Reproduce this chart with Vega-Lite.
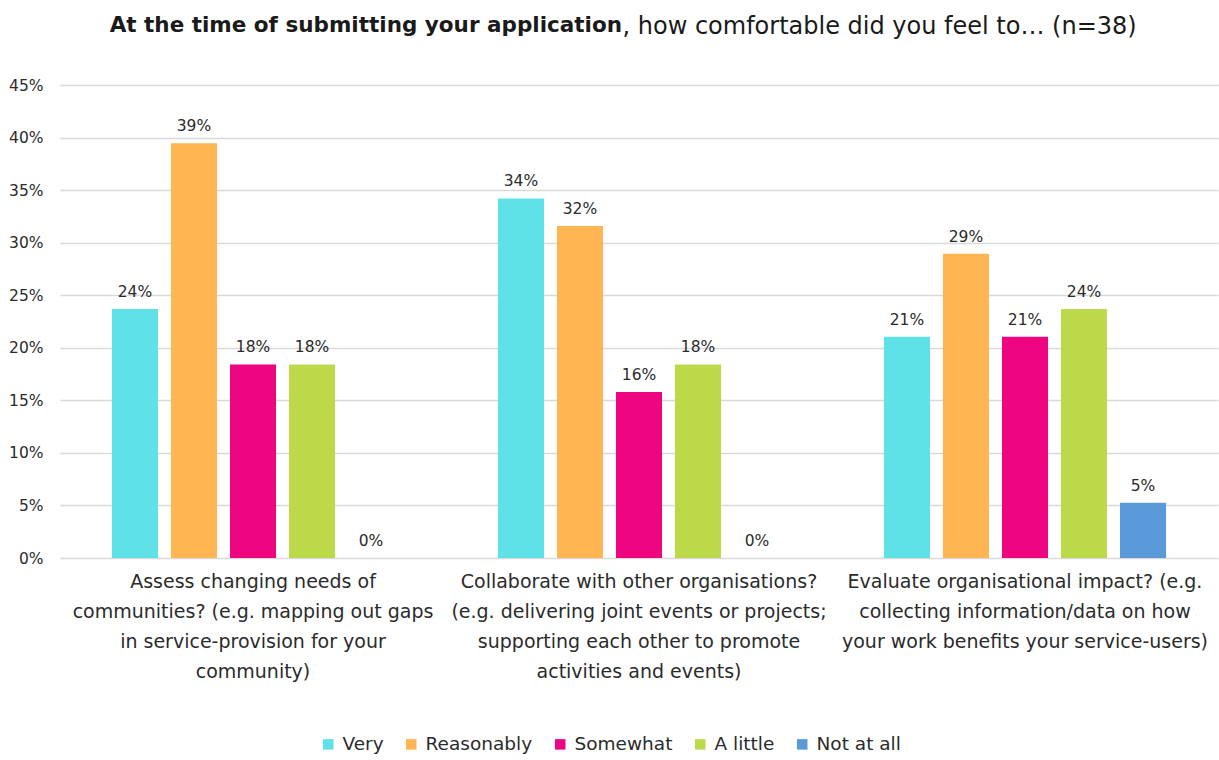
{
  "$schema": "https://vega.github.io/schema/vega-lite/v6.json",
  "autosize": "none",
  "width": 1158,
  "height": 473,
  "padding": {"left": 60, "top": 85, "right": 1, "bottom": 202},
  "background": "white",
  "config": {
    "font": "DejaVu Sans",
    "view": {"stroke": null}
  },
  "title": {
    "text": "At the time of submitting your application",
    "fontSize": 21.5,
    "fontWeight": "bold",
    "color": "#1a1a1a",
    "anchor": "start",
    "align": "right",
    "baseline": "alphabetic",
    "frame": "group",
    "dx": 562,
    "offset": -39
  },
  "data": {
    "values": [
      {"question": "Assess changing needs of|communities? (e.g. mapping out gaps|in service-provision for your|community)", "level": "Very", "pct": 0.2368},
      {"question": "Assess changing needs of|communities? (e.g. mapping out gaps|in service-provision for your|community)", "level": "Reasonably", "pct": 0.3947},
      {"question": "Assess changing needs of|communities? (e.g. mapping out gaps|in service-provision for your|community)", "level": "Somewhat", "pct": 0.1842},
      {"question": "Assess changing needs of|communities? (e.g. mapping out gaps|in service-provision for your|community)", "level": "A little", "pct": 0.1842},
      {"question": "Assess changing needs of|communities? (e.g. mapping out gaps|in service-provision for your|community)", "level": "Not at all", "pct": 0},
      {"question": "Collaborate with other organisations?|(e.g. delivering joint events or projects;|supporting each other to promote|activities and events)", "level": "Very", "pct": 0.3421},
      {"question": "Collaborate with other organisations?|(e.g. delivering joint events or projects;|supporting each other to promote|activities and events)", "level": "Reasonably", "pct": 0.3158},
      {"question": "Collaborate with other organisations?|(e.g. delivering joint events or projects;|supporting each other to promote|activities and events)", "level": "Somewhat", "pct": 0.1579},
      {"question": "Collaborate with other organisations?|(e.g. delivering joint events or projects;|supporting each other to promote|activities and events)", "level": "A little", "pct": 0.1842},
      {"question": "Collaborate with other organisations?|(e.g. delivering joint events or projects;|supporting each other to promote|activities and events)", "level": "Not at all", "pct": 0},
      {"question": "Evaluate organisational impact? (e.g.|collecting information/data on how|your work benefits your service-users)", "level": "Very", "pct": 0.2105},
      {"question": "Evaluate organisational impact? (e.g.|collecting information/data on how|your work benefits your service-users)", "level": "Reasonably", "pct": 0.2895},
      {"question": "Evaluate organisational impact? (e.g.|collecting information/data on how|your work benefits your service-users)", "level": "Somewhat", "pct": 0.2105},
      {"question": "Evaluate organisational impact? (e.g.|collecting information/data on how|your work benefits your service-users)", "level": "A little", "pct": 0.2368},
      {"question": "Evaluate organisational impact? (e.g.|collecting information/data on how|your work benefits your service-users)", "level": "Not at all", "pct": 0.0526}
    ]
  },
  "encoding": {
    "x": {
      "field": "question",
      "type": "nominal",
      "sort": null,
      "scale": {"paddingInner": 0, "paddingOuter": 0},
      "axis": {
        "title": null,
        "labelAngle": 0,
        "labelExpr": "split(datum.value, '|')",
        "labelLineHeight": 30,
        "labelFontSize": 19,
        "labelColor": "#2b2b2b",
        "labelPadding": 14,
        "labelBaseline": "top",
        "ticks": false,
        "domain": false,
        "labelLimit": 500
      }
    },
    "xOffset": {
      "field": "level",
      "type": "nominal",
      "sort": ["Very", "Reasonably", "Somewhat", "A little", "Not at all"],
      "scale": {"paddingInner": 0.22, "paddingOuter": 0.88}
    },
    "y": {
      "field": "pct",
      "type": "quantitative",
      "scale": {"domain": [0, 0.45], "nice": false},
      "axis": {
        "values": [0, 0.05, 0.1, 0.15, 0.2, 0.25, 0.3, 0.35, 0.4, 0.45],
        "format": ".0%",
        "labelFontSize": 15.5,
        "labelColor": "#2b2b2b",
        "labelPadding": 17,
        "ticks": false,
        "domain": false,
        "gridColor": "#d9d9d9",
        "gridWidth": 1.3,
        "title": ", how comfortable did you feel to\u2026 (n=38)",
        "titleAngle": 0,
        "titleAlign": "left",
        "titleBaseline": "alphabetic",
        "titleX": 562,
        "titleY": -52,
        "titleFontSize": 24,
        "titleFontWeight": "normal",
        "titleColor": "#1a1a1a"
      }
    }
  },
  "layer": [
    {
      "mark": {"type": "bar"},
      "encoding": {
        "color": {
          "field": "level",
          "type": "nominal",
          "sort": ["Very", "Reasonably", "Somewhat", "A little", "Not at all"],
          "scale": {
            "domain": ["Very", "Reasonably", "Somewhat", "A little", "Not at all"],
            "range": ["#5fe1e8", "#ffb552", "#ee0580", "#bcd94a", "#5b9ad8"]
          },
          "legend": {
            "title": null,
            "orient": "none",
            "direction": "horizontal",
            "legendX": 259,
            "legendY": 650,
            "symbolType": "square",
            "symbolSize": 110,
            "symbolStrokeWidth": 0,
            "labelFontSize": 18.5,
            "labelColor": "#2b2b2b",
            "labelOffset": 5,
            "columnPadding": 18
          }
        }
      }
    },
    {
      "mark": {"type": "text", "baseline": "bottom", "dy": -9, "fontSize": 15.5, "color": "#2b2b2b"},
      "encoding": {
        "text": {"field": "pct", "type": "quantitative", "format": ".0%"}
      }
    }
  ]
}
